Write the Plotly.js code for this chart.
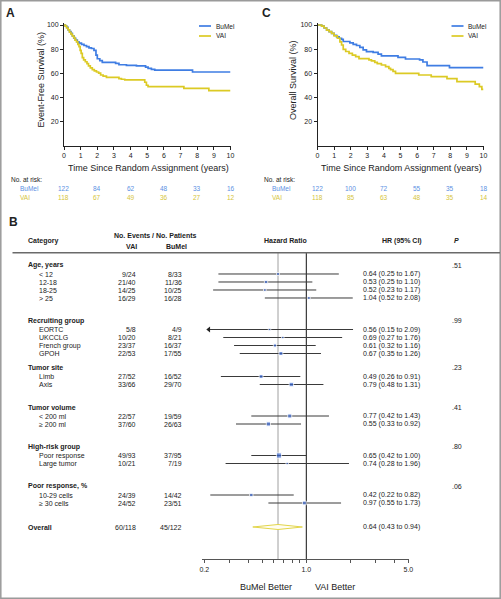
<!DOCTYPE html>
<html><head><meta charset="utf-8">
<script src="https://cdn.plot.ly/plotly-3.0.1.min.js"></script>
<style>html,body{margin:0;padding:0;background:#fff}#chart{width:501px;height:599px}</style>
</head><body><div id="chart"></div>
<script>
// ---------------- DATA ----------------
// Panel A: event-free survival (step points: time in years, survival %)
const efsBuMelT = [0,0.08,0.16,0.25,0.33,0.42,0.5,0.6,0.7,0.8,0.9,1.05,1.2,1.35,1.5,1.65,1.8,1.92,2.0,2.15,2.3,3.1,3.3,3.75,4.35,4.9,5.05,5.25,5.45,7.72,10];
const efsBuMelS = [100,99,98,96,94.5,93,91,89,87.5,86,85,84,83,82,81,80.5,79,75,72,70.5,69,68.2,67,66.5,66,65,64,63.2,62.6,61,61];
const efsVaiT = [0,0.08,0.16,0.25,0.33,0.42,0.5,0.58,0.66,0.75,0.83,0.9,0.97,1.03,1.1,1.18,1.28,1.38,1.47,1.58,1.7,1.82,1.95,2.08,2.2,2.35,2.55,3.3,3.45,3.65,4.85,4.95,5.05,7.2,8.7,10];
const efsVaiS = [100,99,97.5,96,94,92.5,91,89.5,87.5,86,84,82,79,76.5,73,71,69.5,68,66,64.5,63,62,61,60,58.5,57.5,56.6,55.5,55,54.4,52.5,50,48.8,47.4,45.5,45.5];
// Panel C: overall survival
const osBuMelT = [0,0.25,0.4,0.55,0.7,0.85,1.0,1.15,1.3,1.45,1.55,1.95,2.15,2.35,2.55,2.75,2.95,3.35,3.65,3.85,4.85,5.3,6.15,6.35,6.6,7.95,10];
const osBuMelS = [100,99,97.5,95.7,94.5,93,91.5,90.2,89,88,86.3,85.2,84,83,81.5,79.3,77.9,77.3,75.9,74.3,73.2,71.8,71,69.3,66.3,64.6,64.6];
const osVaiT = [0,0.25,0.4,0.55,0.7,0.85,1.0,1.2,1.35,1.45,1.55,1.7,1.9,2.1,2.3,2.5,3.1,3.25,3.45,3.6,3.85,4.1,4.3,4.4,4.55,4.7,6.1,6.85,7.8,8.4,9.5,9.75,9.9,10];
const osVaiS = [100,99,97.5,95.7,94.5,93,91,89,86,83.4,79.8,78,76.5,75,73.7,72.1,71,70.2,69,68,66.8,65.4,64,63,61.5,59.9,58.5,57.1,55.5,53,51,48.8,46.6,46.6];
// Numbers at risk
const riskTimes = [0,2,4,6,8,10];
const efsRiskBuMel = ['122','84','62','48','33','16'];
const efsRiskVai = ['118','67','49','36','27','12'];
const osRiskBuMel = ['122','100','72','55','35','18'];
const osRiskVai = ['118','85','63','48','35','14'];
const yTicks = [20,40,60,80,100];
const xTicks = [0,1,2,3,4,5,6,7,8,9,10];

// Panel B: forest plot
const groupNames = ['Age, years','Recruiting group','Tumor site','Tumor volume','High-risk group','Poor response, %'];
const groupP = ['.51','.99','.23','.41','.80','.06'];
const rowLabels = ['< 12','12-18','18-25','> 25','EORTC','UKCCLG','French group','GPOH','Limb','Axis','< 200 ml','\u2265 200 ml','Poor response','Large tumor','10-29 cells','\u2265 30 cells'];
const rowGroup = [0,0,0,0,1,1,1,1,2,2,3,3,4,4,5,5];
const vaiEvents = ['9/24','21/40','14/25','16/29','5/8','10/20','23/37','22/53','27/52','33/66','22/57','37/60','49/93','10/21','24/39','24/52'];
const bumelEvents = ['8/33','11/36','10/25','16/28','4/9','8/21','16/37','17/55','16/52','29/70','19/59','26/63','37/95','7/19','14/42','23/51'];
const hr = [0.64,0.53,0.52,1.04,0.56,0.69,0.61,0.67,0.49,0.79,0.77,0.55,0.65,0.74,0.42,0.97];
const ciLow = [0.25,0.25,0.23,0.52,0.15,0.27,0.32,0.35,0.26,0.48,0.42,0.33,0.42,0.28,0.22,0.55];
const ciHigh = [1.67,1.10,1.17,2.08,2.09,1.76,1.16,1.26,0.91,1.31,1.43,0.92,1.00,1.96,0.82,1.73];
const overallLabel = 'Overall';
const overallVai = '60/118';
const overallBuMel = '45/122';
const overallHR = 0.64, overallLow = 0.43, overallHigh = 0.94;
const forestTicks = [0.2,0.3,0.4,0.5,0.6,0.7,0.8,0.9,1,2,3,4,5];
const forestTickText = ['0.2','','','','','','','','1.0','','','','5.0'];

// ---------------- LAYOUT CONSTANTS ----------------
const W = 501, H = 599;
const FONT = 'Liberation Sans, Arial, Helvetica, sans-serif';
const BLUE = '#3f7de3', YELLOW = '#dcca24';
const BLUE_T = '#5a8fe3', YELLOW_T = '#d5c53a';
const fx = x => x / W, fy = y => 1 - y / H;

// forest row positions (in pixel-like units of y3)
const FIRST_HEADER_Y = 265, HEADER_TO_ITEM = 9, ITEM_STEP = 8, OVERALL_GAP = 24;
const GROUP_GAPS = [22.5, 14, 22.5, 22.5, 22.5];
const headerY = [], rowY = [];
let cur = FIRST_HEADER_Y;
groupNames.forEach((g, gi) => {
  if (gi > 0) cur += GROUP_GAPS[gi - 1];
  headerY.push(cur);
  let idx = 0;
  rowGroup.forEach((rg, ri) => {
    if (rg === gi) { rowY[ri] = cur + HEADER_TO_ITEM + ITEM_STEP * idx; idx++; }
  });
  cur = cur + HEADER_TO_ITEM + ITEM_STEP * (idx - 1);
});
const overallY = cur + OVERALL_GAP;
const FOREST_TOP = 252.7, FOREST_BOTTOM = 559;
const AXIS_MIN_HR = 0.215;

// ---------------- TRACES ----------------
const traces = [];
function km(t, s, color, xa, ya) {
  traces.push({x: t, y: s, xaxis: xa, yaxis: ya, mode: 'lines', line: {shape: 'hv', color: color, width: 1.7}, hoverinfo: 'skip'});
}
km(efsBuMelT, efsBuMelS, BLUE, 'x', 'y');
km(efsVaiT, efsVaiS, YELLOW, 'x', 'y');
km(osBuMelT, osBuMelS, BLUE, 'x2', 'y2');
km(osVaiT, osVaiS, YELLOW, 'x2', 'y2');

// reference lines
traces.push({x: [overallHR, overallHR], y: [FOREST_TOP, FOREST_BOTTOM], xaxis: 'x3', yaxis: 'y3', mode: 'lines', line: {color: '#a0a0a0', width: 1}});
traces.push({x: [1, 1], y: [FOREST_TOP, FOREST_BOTTOM], xaxis: 'x3', yaxis: 'y3', mode: 'lines', line: {color: '#111', width: 1}});

// CI lines
const ciX = [], ciY = [], arrX = [], arrY = [];
hr.forEach((v, i) => {
  const lo = Math.max(ciLow[i], AXIS_MIN_HR);
  if (ciLow[i] < AXIS_MIN_HR) { arrX.push(AXIS_MIN_HR); arrY.push(rowY[i]); }
  ciX.push(lo, ciHigh[i], null); ciY.push(rowY[i], rowY[i], null);
});
traces.push({x: ciX, y: ciY, xaxis: 'x3', yaxis: 'y3', mode: 'lines', line: {color: '#3a3a3a', width: 1}});
traces.push({x: arrX, y: arrY, xaxis: 'x3', yaxis: 'y3', mode: 'markers', marker: {symbol: 'triangle-left', size: 5, color: '#222'}});
// HR squares sized by patients
const sizes = vaiEvents.map((v, i) => {
  const n = +v.split('/')[1] + +bumelEvents[i].split('/')[1];
  return Math.max(2.5, 0.38 * Math.sqrt(n));
});
traces.push({x: hr, y: rowY, xaxis: 'x3', yaxis: 'y3', mode: 'markers', marker: {symbol: 'square', size: sizes, color: '#3b68cf'}});
// overall diamond
const DH = 2.5;
traces.push({x: [overallLow, overallHR, overallHigh, overallHR, overallLow], y: [overallY, overallY - DH, overallY, overallY + DH, overallY],
  xaxis: 'x3', yaxis: 'y3', mode: 'lines', fill: 'toself', fillcolor: '#fffdf0', line: {color: '#e2d54a', width: 1}});

// ---------------- ANNOTATIONS ----------------
const ann = [];
function T(text, x, y, o = {}) {
  ann.push(Object.assign({text: text, x: fx(x), y: fy(y), xref: 'paper', yref: 'paper', showarrow: false,
    xanchor: o.xa || 'center', yanchor: 'middle', textangle: o.angle || 0,
    font: {family: FONT, size: o.size || 7, color: o.color || '#222'}}));
}
function R(text, x, y, o = {}) {
  ann.push({text: text, x: fx(x), y: y, xref: 'paper', yref: 'y3', showarrow: false,
    xanchor: o.xa || 'left', yanchor: 'middle', font: {family: FONT, size: o.size || 7, color: o.color || '#222'}});
}
function Rx(text, xv, y, xa, ya, color) {
  ann.push({text: text, x: xv, y: fy(y), xref: xa, yref: 'paper', showarrow: false, xanchor: 'center', yanchor: 'middle',
    font: {family: FONT, size: 6.5, color: color}});
}
// panel labels
T('<b>A</b>', 10, 12.5, {size: 12});
T('<b>C</b>', 266.5, 12.5, {size: 12});
T('<b>B</b>', 13, 222, {size: 12});
// KM titles
T('Event-Free Survival (%)', 40.5, 80, {size: 9, angle: -90});
T('Overall Survival (%)', 293, 80, {size: 9, angle: -90});
T('Time Since Random Assignment (years)', 148.5, 167.5, {size: 9});
T('Time Since Random Assignment (years)', 401, 167.5, {size: 9});
// legends
[[0, 199, 211, 213.5], [1, 451.5, 463.5, 466]].forEach(([k, a, b, tx]) => {
  T('BuMel', tx, 26, {xa: 'left', size: 6.5});
  T('VAI', tx, 36, {xa: 'left', size: 6.5});
});
// risk tables
T('No. at risk:', 9, 179, {xa: 'left', size: 6.5});
T('BuMel', 17.5, 188.5, {xa: 'left', size: 6.5, color: BLUE_T});
T('VAI', 17.5, 197.5, {xa: 'left', size: 6.5, color: YELLOW_T});
T('No. at risk:', 262, 179, {xa: 'left', size: 6.5});
T('BuMel', 270, 188.5, {xa: 'left', size: 6.5, color: BLUE_T});
T('VAI', 270, 197.5, {xa: 'left', size: 6.5, color: YELLOW_T});
riskTimes.forEach((t, i) => {
  Rx(efsRiskBuMel[i], t, 188.5, 'x', 'y', BLUE_T);
  Rx(efsRiskVai[i], t, 197.5, 'x', 'y', YELLOW_T);
  Rx(osRiskBuMel[i], t, 188.5, 'x2', 'y2', BLUE_T);
  Rx(osRiskVai[i], t, 197.5, 'x2', 'y2', YELLOW_T);
});
// forest header
T('<b>Category</b>', 26, 241, {xa: 'left'});
T('<b>No. Events / No. Patients</b>', 155, 235.5);
T('<b>VAI</b>', 131, 246);
T('<b>BuMel</b>', 176.5, 246);
T('<b>Hazard Ratio</b>', 285.5, 241);
T('<b>HR (95% CI)</b>', 424, 241, {xa: 'right'});
T('<b><i>P</i></b>', 456.5, 241);
// forest rows
groupNames.forEach((g, gi) => {
  R('<b>' + g + '</b>', 25.5, headerY[gi]);
  R(groupP[gi], 463.5, headerY[gi], {xa: 'right'});
});
rowLabels.forEach((l, i) => {
  R(l, 37, rowY[i]);
  R(vaiEvents[i], 137.5, rowY[i], {xa: 'right'});
  R(bumelEvents[i], 184, rowY[i], {xa: 'right'});
  R(hr[i].toFixed(2) + ' (' + ciLow[i].toFixed(2) + ' to ' + ciHigh[i].toFixed(2) + ')', 361, rowY[i]);
});
R('<b>' + overallLabel + '</b>', 25.5, overallY);
R(overallVai, 137.5, overallY, {xa: 'right'});
R(overallBuMel, 184, overallY, {xa: 'right'});
R(overallHR.toFixed(2) + ' (' + overallLow.toFixed(2) + ' to ' + overallHigh.toFixed(2) + ')', 361, overallY);
T('BuMel Better', 293.5, 587, {xa: 'right', size: 9});
T('VAI Better', 312.5, 587, {xa: 'left', size: 9});

// ---------------- SHAPES ----------------
const shapes = [
  {type: 'rect', xref: 'paper', yref: 'paper', x0: fx(0.8), x1: fx(500.2), y0: fy(598.2), y1: fy(0.8), line: {color: '#9a9a9a', width: 1.5}},
  {type: 'line', xref: 'paper', yref: 'paper', x0: fx(12.5), x1: fx(500), y0: fy(252.7), y1: fy(252.7), line: {color: '#6a6a6a', width: 1.5}},
  {type: 'line', xref: 'x3', yref: 'paper', x0: 0, x1: 0, y0: fy(582.5), y1: fy(592), line: {color: '#222', width: 1}},
  {type: 'line', xref: 'paper', yref: 'paper', x0: fx(199), x1: fx(211), y0: fy(26), y1: fy(26), line: {color: BLUE, width: 1.7}},
  {type: 'line', xref: 'paper', yref: 'paper', x0: fx(199), x1: fx(211), y0: fy(36), y1: fy(36), line: {color: YELLOW, width: 1.7}},
  {type: 'line', xref: 'paper', yref: 'paper', x0: fx(451.5), x1: fx(463.5), y0: fy(26), y1: fy(26), line: {color: BLUE, width: 1.7}},
  {type: 'line', xref: 'paper', yref: 'paper', x0: fx(451.5), x1: fx(463.5), y0: fy(36), y1: fy(36), line: {color: YELLOW, width: 1.7}}
];

// ---------------- AXES ----------------
const kmX = (d0, d1, anchor) => ({domain: [fx(d0), fx(d1)], range: [0, 10], anchor: anchor, showline: true, linecolor: '#222', linewidth: 1,
  ticks: 'outside', ticklen: 3, tickcolor: '#222', tickvals: xTicks, tickfont: {family: FONT, size: 7, color: '#222'},
  showgrid: false, zeroline: false, fixedrange: true});
const kmY = (anchor) => ({domain: [fy(145.5), fy(145.5 - 102 * 1.205)], range: [0, 102], anchor: anchor, showline: true, linecolor: '#222', linewidth: 1,
  ticks: 'outside', ticklen: 3, tickcolor: '#222', tickvals: yTicks, tickfont: {family: FONT, size: 7, color: '#222'},
  showgrid: false, zeroline: false, fixedrange: true});

const layout = {
  width: W, height: H, margin: {l: 0, r: 0, t: 0, b: 0}, paper_bgcolor: '#fff', plot_bgcolor: 'rgba(0,0,0,0)',
  showlegend: false, hovermode: false,
  xaxis: kmX(64, 230.5, 'y'), yaxis: kmY('x'),
  xaxis2: kmX(317.5, 483.5, 'y2'), yaxis2: kmY('x2'),
  xaxis3: {domain: [fx(202), fx(409)], type: 'log', range: [-0.7144, 0.7034], anchor: 'y3', showline: true, linecolor: '#555', linewidth: 1.2,
    ticks: 'outside', ticklen: 3, tickcolor: '#555', tickvals: forestTicks, ticktext: forestTickText,
    tickfont: {family: FONT, size: 7, color: '#222'}, showgrid: false, zeroline: false, fixedrange: true},
  yaxis3: {domain: [fy(FOREST_BOTTOM), fy(FOREST_TOP)], range: [FOREST_BOTTOM, FOREST_TOP], anchor: 'x3', visible: false, fixedrange: true},
  annotations: ann, shapes: shapes
};
Plotly.newPlot('chart', traces, layout, {staticPlot: true, displayModeBar: false});
</script></body></html>
